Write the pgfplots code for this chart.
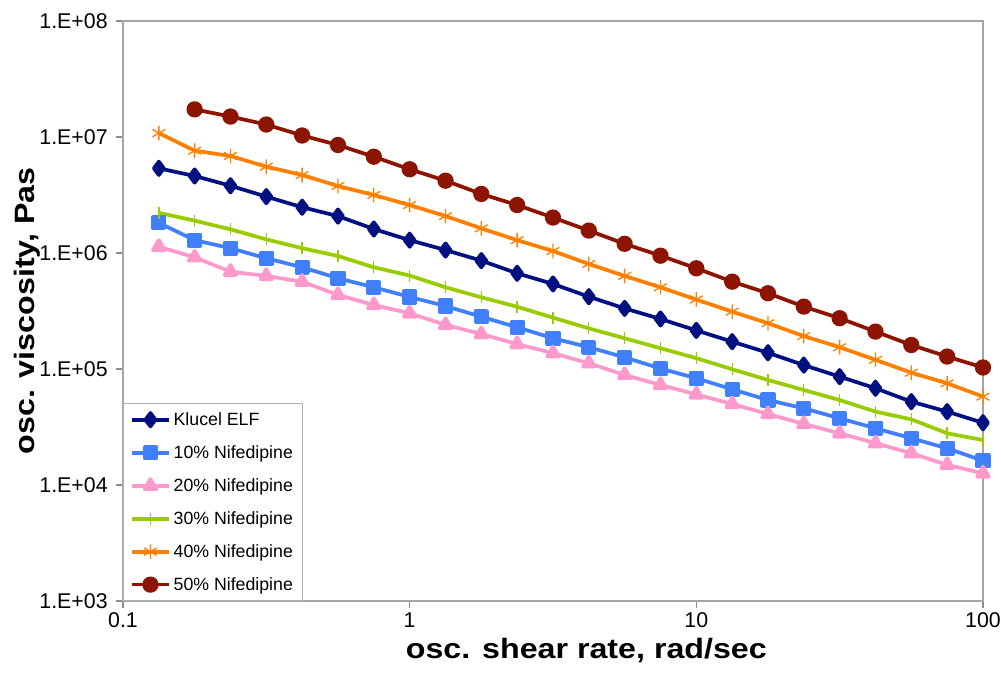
\documentclass[border=0pt]{standalone}
\usepackage{fontspec}
\setmainfont{Liberation Sans}
\newfontfamily\labelfont[FakeStretch=1.15]{Liberation Sans}
\usepackage{pgfplots}
\usepackage{pgfplotstable}
\pgfplotsset{compat=1.18}
\definecolor{cNavy}{RGB}{0,16,128}
\definecolor{cBlue}{RGB}{64,128,255}
\definecolor{cPink}{RGB}{255,153,204}
\definecolor{cGreen}{RGB}{153,204,0}
\definecolor{cOrange}{RGB}{255,128,0}
\definecolor{cRed}{RGB}{140,20,0}

\pgfplotstableread{
x y
0.1334 5.37e6
0.1778 4.61e6
0.2371 3.80e6
0.3162 3.06e6
0.4217 2.48e6
0.5623 2.08e6
0.7499 1.61e6
1      1.29e6
1.334  1.06e6
1.778  8.59e5
2.371  6.68e5
3.162  5.41e5
4.217  4.20e5
5.623  3.33e5
7.499  2.70e5
10     2.15e5
13.34  1.72e5
17.78  1.38e5
23.71  1.08e5
31.62  8.59e4
42.17  6.82e4
56.23  5.23e4
74.99  4.29e4
100    3.44e4
}\klucel

\pgfplotstableread{
x y
0.1334 1.82e6
0.1778 1.29e6
0.2371 1.10e6
0.3162 9.00e5
0.4217 7.53e5
0.5623 6.06e5
0.7499 5.06e5
1      4.18e5
1.334  3.49e5
1.778  2.82e5
2.371  2.29e5
3.162  1.84e5
4.217  1.54e5
5.623  1.26e5
7.499  1.01e5
10     8.32e4
13.34  6.68e4
17.78  5.40e4
23.71  4.58e4
31.62  3.76e4
42.17  3.08e4
56.23  2.53e4
74.99  2.07e4
100    1.62e4
}\nifa

\pgfplotstableread{
x y
0.1334 1.13e6
0.1778 9.18e5
0.2371 6.90e5
0.3162 6.34e5
0.4217 5.66e5
0.5623 4.35e5
0.7499 3.56e5
1      3.02e5
1.334  2.40e5
1.778  2.00e5
2.371  1.64e5
3.162  1.37e5
4.217  1.12e5
5.623  8.88e4
7.499  7.28e4
10     6.03e4
13.34  4.99e4
17.78  4.09e4
23.71  3.36e4
31.62  2.79e4
42.17  2.29e4
56.23  1.88e4
74.99  1.49e4
100    1.26e4
}\nifb

\pgfplotstableread{
x y
0.1334 2.22e6
0.1778 1.90e6
0.2371 1.60e6
0.3162 1.31e6
0.4217 1.10e6
0.5623 9.42e5
0.7499 7.53e5
1      6.39e5
1.334  5.06e5
1.778  4.15e5
2.371  3.44e5
3.162  2.77e5
4.217  2.24e5
5.623  1.84e5
7.499  1.51e5
10     1.24e5
13.34  9.94e4
17.78  8.04e4
23.71  6.59e4
31.62  5.40e4
42.17  4.29e4
56.23  3.68e4
74.99  2.79e4
100    2.44e4
}\nifc

\pgfplotstableread{
x y
0.1334 1.08e7
0.1778 7.62e6
0.2371 6.86e6
0.3162 5.55e6
0.4217 4.70e6
0.5623 3.78e6
0.7499 3.16e6
1      2.59e6
1.334  2.08e6
1.778  1.63e6
2.371  1.29e6
3.162  1.04e6
4.217  8.04e5
5.623  6.34e5
7.499  5.06e5
10     3.97e5
13.34  3.12e5
17.78  2.48e5
23.71  1.92e5
31.62  1.54e5
42.17  1.20e5
56.23  9.29e4
74.99  7.53e4
100    5.78e4
}\nifd

\pgfplotstableread{
x y
0.1778 1.73e7
0.2371 1.50e7
0.3162 1.28e7
0.4217 1.03e7
0.5623 8.53e6
0.7499 6.76e6
1      5.27e6
1.334  4.20e6
1.778  3.23e6
2.371  2.59e6
3.162  2.02e6
4.217  1.56e6
5.623  1.20e6
7.499  9.48e5
10     7.38e5
13.34  5.66e5
17.78  4.50e5
23.71  3.45e5
31.62  2.74e5
42.17  2.10e5
56.23  1.61e5
74.99  1.28e5
100    1.03e5
}\nife

\begin{document}
\begin{tikzpicture}
\path[use as bounding box] (-92.25pt,-60pt) rectangle (658.5pt,450.75pt);
\begin{axis}[
  at={(0,0)}, anchor=south west,
  scale only axis, width=645pt, height=435pt,
  xmode=log, ymode=log,
  xmin=0.1, xmax=100, ymin=1e3, ymax=1e8,
  xtick={0.1,1,10,100}, xticklabels={0.1,1,10,100},
  ytick={1e3,1e4,1e5,1e6,1e7,1e8},
  yticklabels={1.E+03,1.E+04,1.E+05,1.E+06,1.E+07,1.E+08},
  xminorticks=false, yminorticks=false,
  axis line style={draw=black!35, line width=0.9pt},
  tick style={draw=black!45, line width=0.8pt},
  tick align=outside, major tick length=5pt,
  xtick pos=bottom, ytick pos=left,
  tick label style={font=\fontsize{16}{16}\selectfont},
  yticklabel style={xshift=-3pt},
  xlabel={osc. shear rate, rad/sec},
  ylabel={osc. viscosity, Pas},
  label style={font=\labelfont\bfseries\fontsize{21}{21}\selectfont},
  xlabel style={at={(axis description cs:0.5,0)}, anchor=center, yshift=-37pt, xshift=25pt},
  ylabel style={at={(axis description cs:-0.1116,0.5)}, anchor=center},
  clip=false,
  legend cell align=left,
  legend style={at={(0,0)}, anchor=south west, draw=black!30, fill=white,
    font=\fontsize{13.3}{13.3}\selectfont, row sep=9.6pt,
    inner xsep=5pt, inner ysep=4.5pt},
  legend image code/.code={\draw[mark repeat=2,mark phase=2] plot coordinates {(0pt,0pt) (14pt,0pt) (28pt,0pt)};},
  every axis plot/.append style={line width=2.8pt, line join=round},
]
\addplot[cNavy, mark=diamond*, mark size=5pt, mark options={solid}] table {\klucel};
\addlegendentry{Klucel ELF}
\addplot[cBlue, mark=square*, mark size=4.3pt] table {\nifa};
\addlegendentry{10\% Nifedipine}
\addplot[cPink, mark=triangle*, mark size=5pt] table {\nifb};
\addlegendentry{20\% Nifedipine}
\addplot[cGreen, mark=|, mark size=4.5pt, mark options={line width=1pt}] table {\nifc};
\addlegendentry{30\% Nifedipine}
\addplot[cOrange, mark=asterisk, mark size=5.5pt, mark options={line width=1pt}] table {\nifd};
\addlegendentry{40\% Nifedipine}
\addplot[cRed, mark=*, mark size=4.7pt] table {\nife};
\addlegendentry{50\% Nifedipine}
\end{axis}
\end{tikzpicture}
\end{document}
